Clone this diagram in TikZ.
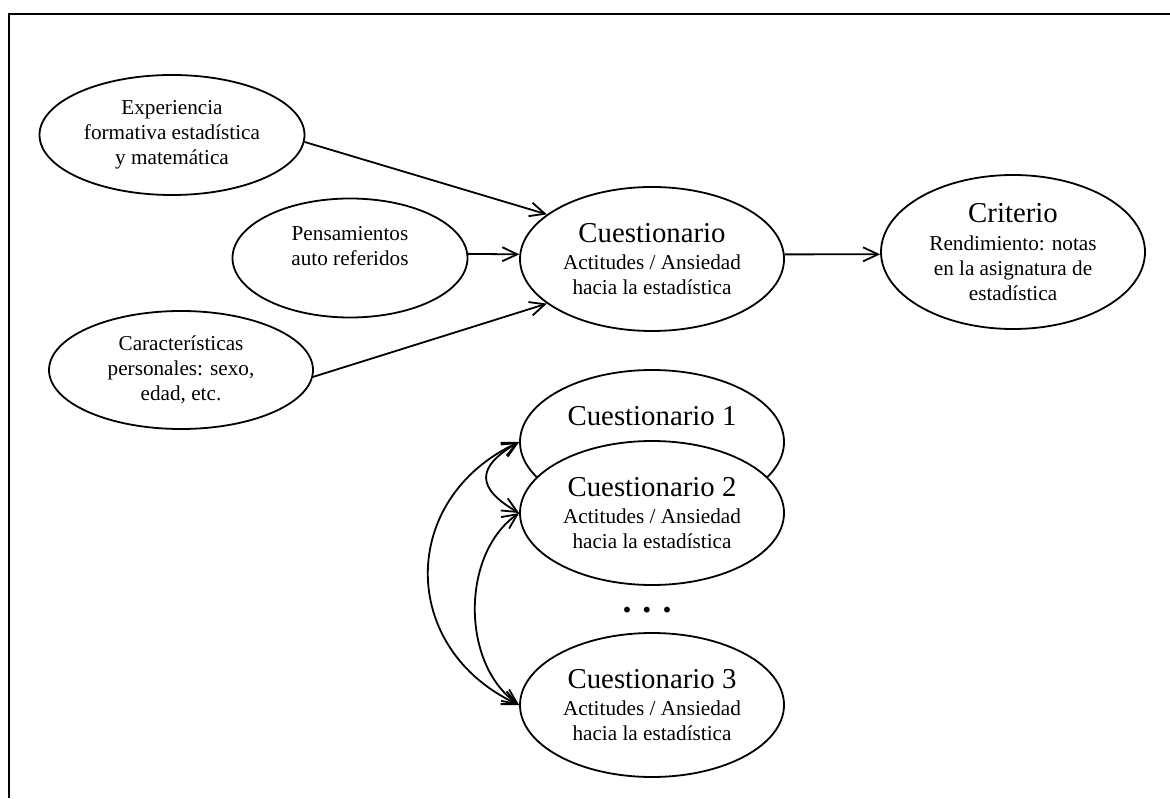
\documentclass[tikz,border=0pt]{standalone}
\usepackage{fontspec}
\setmainfont{Liberation Serif}
\usetikzlibrary{shapes.geometric, arrows.meta}

\newcommand{\grande}{\fontsize{14.4}{13.5}\selectfont}
\newcommand{\chica}{\fontsize{10.6}{12.5}\selectfont}

\tikzset{
  var/.style={ellipse, draw, line width=0.9pt, fill=white, inner sep=0pt,
    align=center, font=\chica, minimum width=132pt, minimum height=72pt},
  flecha/.style={->, line width=0.9pt},
  doble/.style={<->, line width=0.9pt},
}

\begin{document}
\begin{tikzpicture}[x=0.5pt, y=0.5pt, >={Straight Barb[length=7.5pt,width=7pt]}]
\useasboundingbox (0,0) rectangle (1170,798);
% marco
\draw[line width=1pt] (1170,784) -- (9,784) -- (9,0);

% variables predictoras
\node[var, minimum width=132.5pt, minimum height=60pt] (exp) at (172,663) {Experiencia\\formativa estadística\\y matemática};
\node[var, minimum width=117.5pt, minimum height=59.5pt, text depth=12pt] (pen) at (350,540) {Pensamientos\\auto referidos};
\node[var, minimum height=59pt] (car) at (181,428) {Características\\personales: sexo,\\edad, etc.};

% cuestionario y criterio
\node[var] (cue) at (652,539) {{\grande Cuestionario}\\[1pt]Actitudes / Ansiedad\\hacia la estadística};
\node[var, minimum height=77pt] (cri) at (1013,546) {{\grande Criterio}\\[1.5pt]Rendimiento: notas\\en la asignatura de\\estadística};

\draw[flecha] (exp.-3) -- (cue.157);
\draw[flecha] (pen.2) -- (cue.178);
\draw[flecha] (car.-3) -- (cue.203);
\draw[flecha] (cue.2) -- (cri.181);

% versiones del cuestionario
\node[var] (c1) at (652,356) {{\grande Cuestionario 1}\\[1pt]\mbox{}\\\mbox{}};
\node[var] (c2) at (652,285) {{\grande Cuestionario 2}\\[1pt]Actitudes / Ansiedad\\hacia la estadística};
\node[font=\fontsize{18}{18}\selectfont\bfseries, anchor=base] (puntos) at (647,186) {.\hspace{5.5pt}.\hspace{5.5pt}.};
\node[var] (c3) at (652,93) {{\grande Cuestionario 3}\\[1pt]Actitudes / Ansiedad\\hacia la estadística};

\draw[doble] (c1.west) to[out=210, in=150, looseness=1.8] (c2.west);
\draw[doble] (c1.west) to[out=205, in=155, looseness=1.3] (c3.west);
\draw[doble] (c2.west) to[out=215, in=145, looseness=0.95] (c3.west);
\end{tikzpicture}
\end{document}
